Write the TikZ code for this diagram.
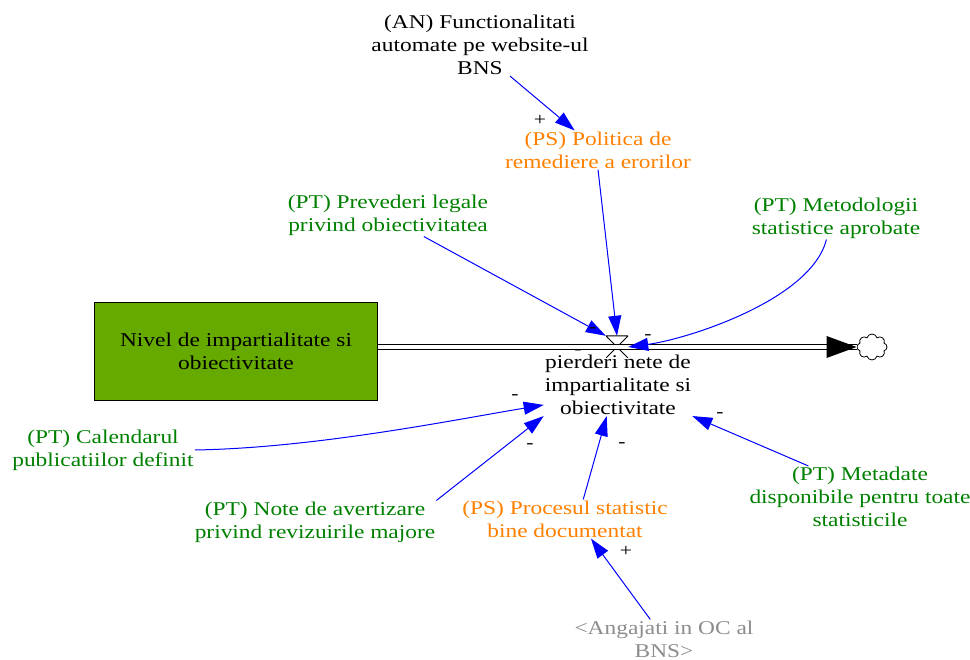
\documentclass[tikz,border=0pt]{standalone}
\usepackage{fontspec}
\setmainfont[FakeStretch=1.2]{Liberation Serif}
\usepackage{xcolor}
\usetikzlibrary{shapes.symbols, arrows.meta, positioning}
\definecolor{stockgreen}{RGB}{102,170,0}
\definecolor{ptgreen}{RGB}{0,128,0}
\definecolor{psorange}{RGB}{255,128,0}
\definecolor{shadowgray}{RGB}{140,140,140}
\definecolor{linkblue}{RGB}{0,0,255}

\begin{document}
\begin{tikzpicture}[
    x=1pt, y=-1pt,
    font=\fontsize{19.5}{23}\selectfont,
    stock/.style={rectangle, draw, fill=stockgreen, minimum width=283pt, minimum height=98pt, align=center},
    var/.style={align=center, inner sep=1pt},
    tech/.style={var, text=ptgreen},
    proc/.style={var, text=psorange},
    ghost/.style={var, text=shadowgray},
    sign/.style={inner sep=0pt, font=\fontsize{18}{18}\selectfont},
    causal/.style={-{Triangle[length=20pt, width=13pt]}, draw=linkblue, fill=none, line width=1pt},
    pipe/.style={double, double distance=4pt, line width=0.8pt},
    valve/.style={minimum width=22pt, minimum height=22pt, inner sep=0pt,
        path picture={\draw[line width=1pt] (path picture bounding box.north west) -- (path picture bounding box.north east) -- (path picture bounding box.south west)
            (path picture bounding box.north west) -- (path picture bounding box.south east);}},
    sink/.style={cloud, draw, cloud puffs=8, aspect=1.2, minimum width=30pt, minimum height=26pt, inner sep=0pt, line width=0.8pt}
]
\useasboundingbox (0,0) rectangle (970,660);

\node[var] (an) at (480,45) {(AN) Functionalitati\\automate pe website-ul\\BNS};
\node[proc] (ps) at (598,150) {(PS) Politica de\\remediere a erorilor};
\node[tech] (pr) at (388,215) {(PT) Prevederi legale\\privind obiectivitatea};
\node[tech] (mt) at (836,218) {(PT) Metodologii\\statistice aprobate};

\node[stock] (stock) at (236,351) {Nivel de impartialitate si\\obiectivitate};
\node[valve] (valve) at (617,347) {};
\node[sink] (sink) at (872,347) {};
\node[var] (loss) at (618,385) {pierderi nete de\\impartialitate si\\obiectivitate};

\node[tech] (cal) at (103,450) {(PT) Calendarul\\publicatiilor definit};
\node[tech] (note) at (315,522) {(PT) Note de avertizare\\privind revizuirile majore};
\node[proc] (proc) at (565,519) {(PS) Procesul statistic\\bine documentat};
\node[tech] (md) at (860,497) {(PT) Metadate\\disponibile pentru toate\\statisticile};
\node[ghost] (staff) at (664,639) {<Angajati in OC al\\BNS>};

\draw[pipe] (stock.east |- valve.center) -- (sink.west |- valve.center);
\fill (sink.west |- valve.center) -- ++(-30,-11) -- ++(0,22) -- cycle;

\draw[causal] (an.-46) -- (ps.140);
\draw[causal] (ps.south) -- (valve.north);
\draw[causal] (pr.-31) -- (valve.north west);
\draw[causal] (mt.-114) .. controls +(-15,60) and +(60,-8) .. (valve.east);
\draw[causal] (cal.east) .. controls +(120,-2) and +(-90,15) .. (loss.195);
\draw[causal] (note.north east) -- (loss.south west);
\draw[causal] (proc.47) -- (loss.250);
\draw[causal] (md.149) -- (loss.south east);
\draw[causal] (staff.125) -- (proc.-37);

\node[sign] (s1) at (540,120) {+};
\node[sign] (s2) at (593,330) {-};
\node[sign] (s3) at (648,337) {-};
\node[sign] (s4) at (578,352) {-};
\node[sign] (s5) at (515,397) {-};
\node[sign] (s6) at (530,446) {-};
\node[sign] (s7) at (622,445) {-};
\node[sign] (s8) at (720,415) {-};
\node[sign] (s9) at (626,551) {+};

\end{tikzpicture}
\end{document}
